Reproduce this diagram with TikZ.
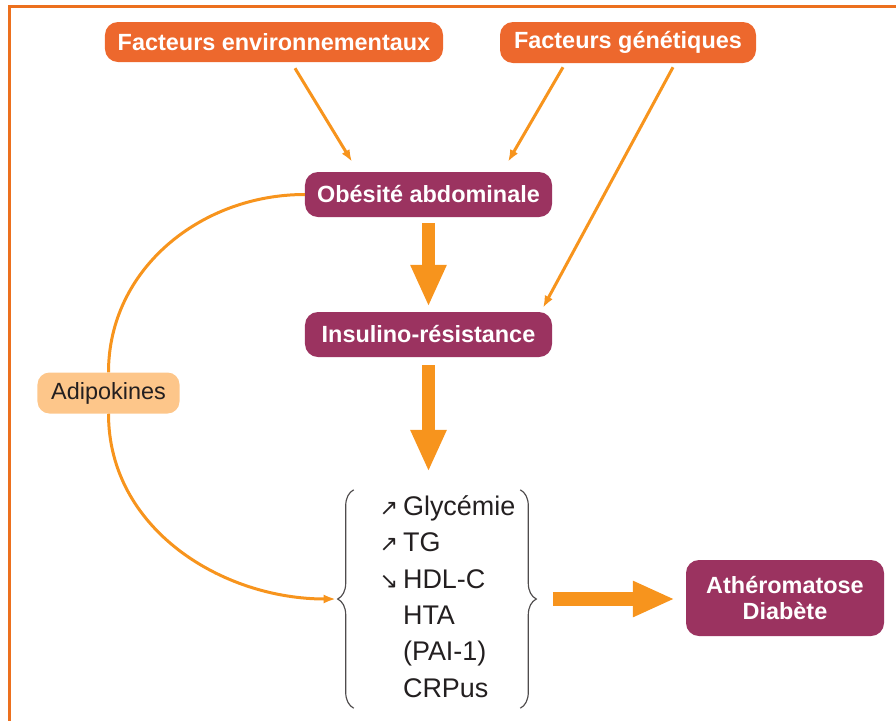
\documentclass[tikz,border=0pt]{standalone}
\usepackage{fontspec}
\setmainfont{Liberation Sans}
\newfontfamily\flechefont{DejaVu Sans}
\usepackage{tikz}
\usetikzlibrary{arrows.meta,calc,decorations.pathreplacing}
\definecolor{cadreC}{RGB}{236,112,30}
\definecolor{facteurC}{RGB}{237,104,45}
\definecolor{prune}{RGB}{155,51,96}
\definecolor{flecheC}{RGB}{247,148,29}
\definecolor{adipoC}{RGB}{253,198,138}
\definecolor{texteC}{RGB}{35,31,32}
\newcommand{\hausse}{{\flechefont\fontsize{19}{19}\selectfont ↗}}
\newcommand{\baisse}{{\flechefont\fontsize{19}{19}\selectfont ↘}}
\tikzset{
  facteur/.style={rectangle, rounded corners=0.39cm, fill=facteurC, text=white,
                  font=\fontsize{20}{22}\selectfont\bfseries, inner sep=0pt,
                  minimum height=1.2cm},
  etape/.style={rectangle, rounded corners=0.39cm, fill=prune, text=white,
                font=\fontsize{20}{22}\selectfont\bfseries, inner sep=0pt,
                minimum width=7.41cm, minimum height=1.35cm, align=center},
  adipobox/.style={rectangle, rounded corners=0.36cm, fill=adipoC, text=texteC,
                   font=\fontsize{20}{22}\selectfont, inner sep=0pt,
                   minimum width=4.26cm, minimum height=1.23cm},
  risklist/.style={inner sep=0pt, text=texteC, font=\fontsize{23}{31}\selectfont,
                   minimum height=6.51cm},
  accolade/.style={decorate, decoration={brace, amplitude=0.48cm},
                   draw=texteC!80, line width=0.035cm},
  lien/.style={line width=0.09cm, flecheC},
  fleche/.style={lien, -{Latex[length=0.36cm,width=0.27cm]}},
  grossefleche/.style={line width=0.4cm, flecheC, -{Triangle[length=1.26cm,width=1cm]}},
}
\begin{document}
\begin{tikzpicture}[x=0.03cm, y=-0.03cm]
  \useasboundingbox (0,0) rectangle (896,721);
  % cadre
  \draw[cadreC, line width=0.09cm] (896,6) -- (9,6) -- (9,721);

  % facteurs
  \node[facteur, minimum width=10.14cm] (env) at (274,42) {Facteurs environnementaux};
  \node[facteur, minimum width=7.68cm, minimum height=1.23cm] (gen) at (628,42.5) {Facteurs génétiques};

  % etapes
  \node[etape] (obes) at (428.5,194.5) {Obésité abdominale};
  \node[etape] (insul) at (428.5,334.5) {Insulino-résistance};
  \node[adipobox] (adipo) at (108.5,393) {Adipokines};
  \node[etape, minimum width=5.94cm, minimum height=2.28cm] (athero) at (785,598)
    {Athéromatose\\Diabète};

  % liste des facteurs de risque
  \node[risklist] (risk) at (437,599)
    {\begin{tabular}{@{\hspace{22pt}}r@{\hspace{4pt}}l@{\hspace{4pt}}}
      \hausse & Glycémie\\
      \hausse & TG\\
      \baisse & HDL-C\\
              & HTA\\
              & (PAI-1)\\
              & CRPus
    \end{tabular}};
  \draw[accolade] (risk.south west) -- (risk.north west);
  \draw[accolade] (risk.north east) -- (risk.south east);
  \coordinate (gpointe) at ($(risk.west)+(-16,0)$);
  \coordinate (dpointe) at ($(risk.east)+(16,0)$);

  % fleches fines
  \draw[fleche] ($(env.south)+(21,6)$) -- ($(obes.north)+(-76.5,-10)$);
  \draw[fleche] ($(gen.south)+(-65,4)$) -- ($(obes.north)+(79.5,-10)$);
  \draw[fleche] ($(gen.south)+(45,4)$) -- ($(insul.north)+(114.5,-4)$);

  % grosses fleches
  \draw[grossefleche, shorten <=0.18cm, shorten >=0.15cm] (obes.south) -- (insul.north);
  \draw[grossefleche, shorten <=0.24cm, shorten >=0.54cm] (insul.south) -- (insul.south |- risk.north);
  \draw[grossefleche, shorten <=0.5cm, shorten >=0.33cm] (dpointe) -- (dpointe -| athero.west);

  % adipokines
  \draw[lien] (obes.west) to[out=180,in=90] (adipo.north);
  \draw[fleche, shorten >=0.06cm] (adipo.south) to[out=-90,in=180] (gpointe);
\end{tikzpicture}
\end{document}
